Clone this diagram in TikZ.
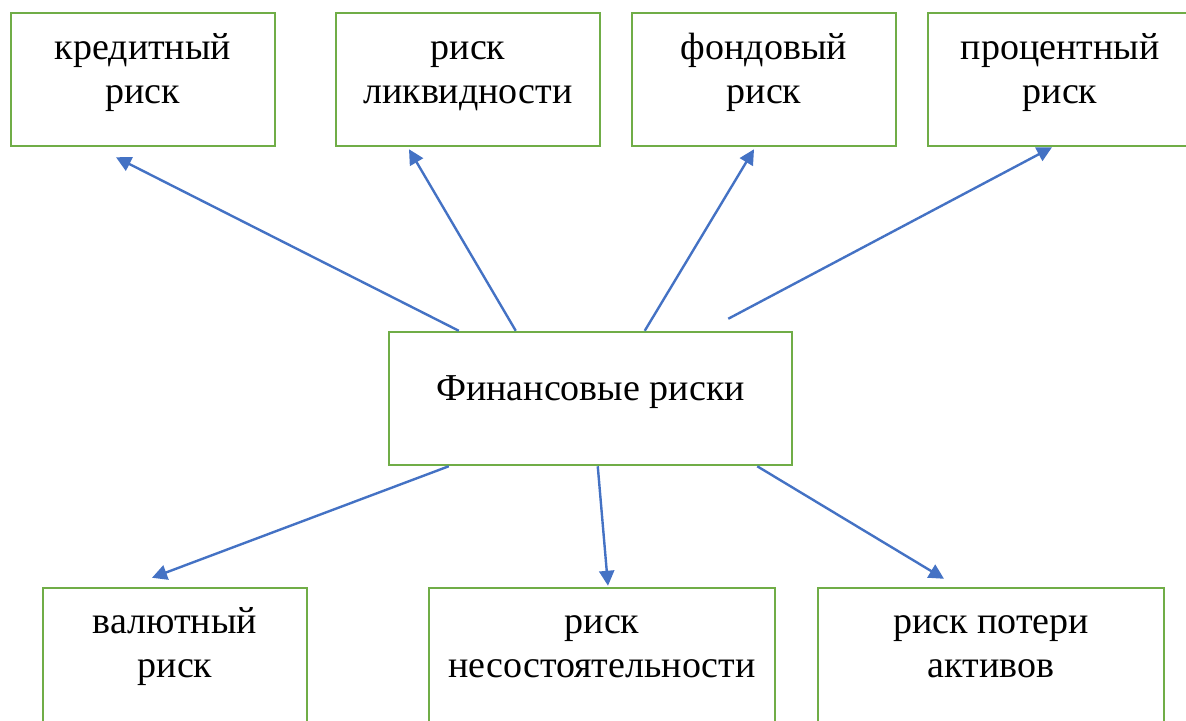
\documentclass[tikz,border=0pt]{standalone}
\usepackage{fontspec}
\setmainfont{Liberation Serif}
\usetikzlibrary{arrows.meta,calc}
\definecolor{boxgreen}{RGB}{112,173,71}
\definecolor{arrowblue}{RGB}{68,114,196}

\begin{document}
\begin{tikzpicture}[x=0.5pt,y=-0.5pt,
    riskbox/.style={draw=boxgreen,line width=1.25pt,minimum width=132pt,minimum height=66.5pt,inner sep=0pt},
    lowbox/.style={riskbox,minimum height=70pt},
    widebox/.style={lowbox,minimum width=173pt},
    risktext/.style={align=center,font=\fontsize{19}{22}\selectfont,inner sep=0pt},
    riskarrow/.style={draw=arrowblue,line width=1.2pt,-{Triangle[length=7.5pt,width=7.5pt]}}]
    \useasboundingbox (0,0) rectangle (1186,720);
    \clip (0,0) rectangle (1186,720);

    % The top boxes
    \node[riskbox] (kred) at (143,79.5) {};
    \node[riskbox] (likv) at (468,79.5) {};
    \node[riskbox] (fond) at (764,79.5) {};
    \node[riskbox] (proc) at (1060,79.5) {};
    \node[risktext] (kredtxt) at ([yshift=3.4pt]kred.center) {\strut кредитный\\\strut риск};
    \node[risktext] (likvtxt) at ([yshift=3.4pt]likv.center) {\strut риск\\\strut ликвидности};
    \node[risktext] (fondtxt) at ([yshift=3.4pt]fond.center) {\strut фондовый\\\strut риск};
    \node[risktext] (proctxt) at ([yshift=3.4pt]proc.center) {\strut процентный\\\strut риск};

    % The main box
    \node[riskbox,minimum width=201.5pt] (fin) at (590.5,398.5) {};
    \node[risktext] (fintxt) at ([yshift=3.6pt]fin.center) {\strut Финансовые риски};

    % The bottom boxes (cut by the lower edge)
    \node[lowbox] (val) at (175,658) {};
    \node[widebox] (nesost) at (602,658) {};
    \node[widebox] (poter) at (991,658) {};
    \node[risktext] (valtxt) at ([yshift=3.4pt]$(val.north)+(0,66.5)$) {\strut валютный\\\strut риск};
    \node[risktext] (nesosttxt) at ([yshift=3.4pt]$(nesost.north)+(0,66.5)$) {\strut риск\\\strut несостоятельности};
    \node[risktext] (potertxt) at ([yshift=3.4pt]$(poter.north)+(0,66.5)$) {\strut риск потери\\\strut активов};

    % Loose start of the arrow to the right
    \coordinate (procstart) at ($(fin.north east)+(-65,-12)$);

    % The arrows up
    \draw[riskarrow] ($(fin.north west)+(71,0)$) -- ($(kred.south)+(-27,10)$);
    \draw[riskarrow] ($(fin.north west)+(128,0)$) -- ($(likv.south)+(-59,2)$);
    \draw[riskarrow] ($(fin.north west)+(257,0)$) -- ($(fond.south)+(-10,2)$);
    \draw[riskarrow] (procstart) -- ($(proc.south)+(-8,0)$);

    % The arrows down
    \draw[riskarrow] ($(fin.south west)+(61,0)$) -- ($(val.north)+(-23,-9)$);
    \draw[riskarrow] ($(fin.south west)+(210,0)$) -- ($(nesost.north)+(6,-1)$);
    \draw[riskarrow] ($(fin.south east)+(-36,0)$) -- ($(poter.north)+(-47,-8)$);
\end{tikzpicture}
\end{document}
